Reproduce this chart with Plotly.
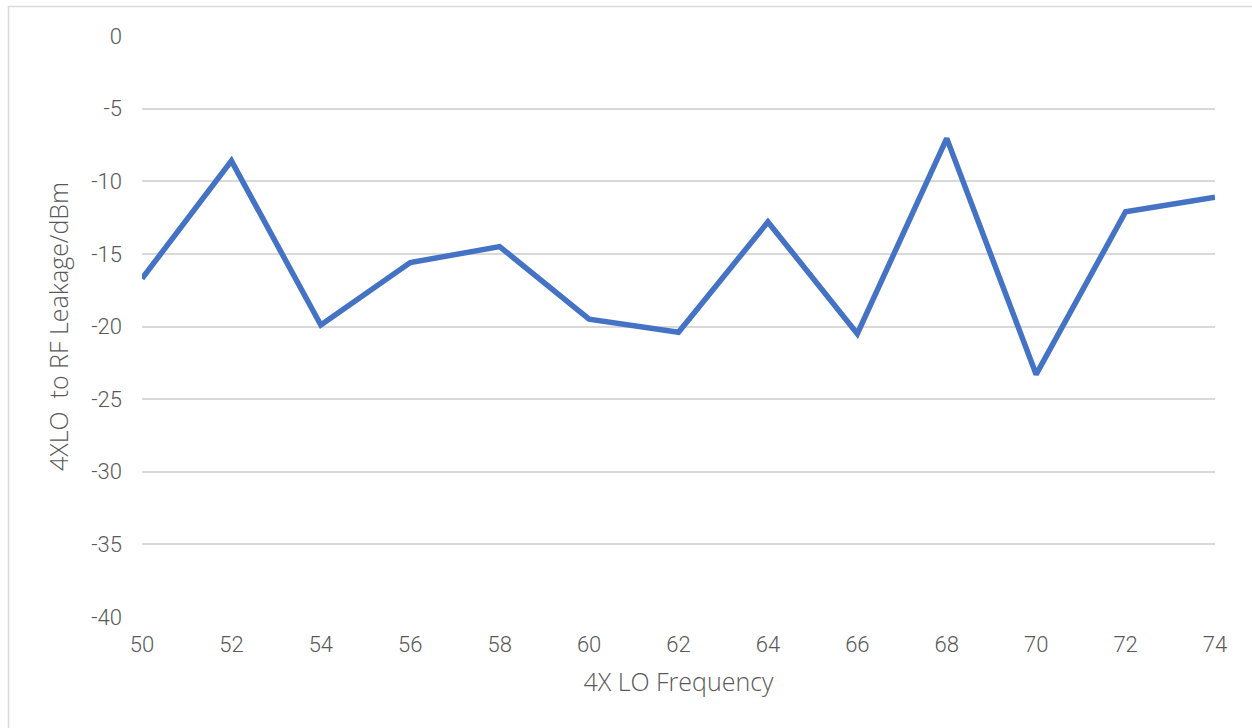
import plotly.graph_objects as go

freq = [50, 52, 54, 56, 58, 60, 62, 64, 66, 68, 70, 72, 74]
leakage = [-16.7, -8.6, -19.9, -15.6, -14.5, -19.5, -20.4, -12.8, -20.5, -7.05, -23.3, -12.1, -11.1]
x_ticks = list(range(50, 75, 2))
y_ticks = list(range(-40, 1, 5))

W, H = 1252, 728
L, R, T, B = 142, 37, 36, 111
pw, ph = W - L - R, H - T - B

font = dict(family="Roboto, Noto Sans, sans-serif", size=22, color="#595959", weight=300)
title_font = dict(family="Open Sans, Roboto, sans-serif", size=25, color="#595959", weight=300)

fig = go.Figure()
fig.add_trace(go.Scatter(
    x=freq, y=leakage, mode="lines",
    line=dict(color="#4472C4", width=5.5, shape="linear"),
    showlegend=False, hoverinfo="x+y"))

fig.update_layout(
    width=W, height=H,
    margin=dict(l=L, r=R, t=T, b=B),
    paper_bgcolor="white", plot_bgcolor="white",
    font=font,
    xaxis=dict(
        range=[50, 74], tickvals=x_ticks, showgrid=False, zeroline=False,
        showline=False, ticks="", ticklabelstandoff=12,
        title=dict(text="4X LO Frequency", font=title_font, standoff=17),
    ),
    yaxis=dict(
        range=[-40, 0], tickvals=y_ticks, ticktext=[str(v) for v in y_ticks],
        showgrid=True, gridcolor="#D9D9D9", gridwidth=1.5, zeroline=False,
        showline=False, ticks="", ticklabelstandoff=19,
        title=dict(text="4XLO  to RF Leakage/dBm", font=title_font, standoff=15),
    ),
    shapes=[dict(
        type="rect", xref="paper", yref="paper",
        x0=(8.5 - L) / pw, x1=(W + 10 - L) / pw,
        y0=-(B + 10) / ph, y1=1 + (T - 6.5) / ph,
        line=dict(color="#D9D9D9", width=1.5), fillcolor="rgba(0,0,0,0)", layer="below")],
)

fig.write_html("out.html", config={"displayModeBar": False},
               post_script="document.body.style.margin='0';document.body.style.overflow='hidden';")
